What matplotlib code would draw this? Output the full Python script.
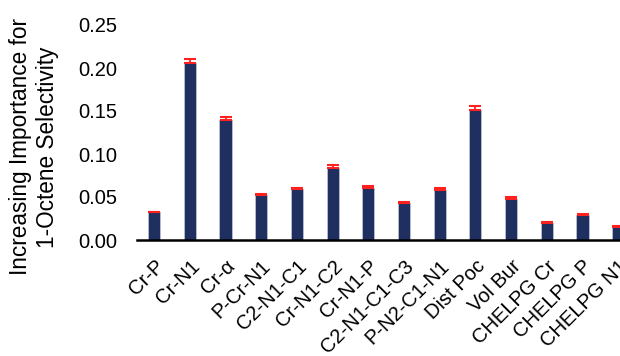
import matplotlib
matplotlib.use("Agg")
import matplotlib.pyplot as plt
import numpy as np

plt.rcParams['font.family'] = ['Liberation Sans', 'DejaVu Sans']

descriptors = ["Cr-P", "Cr-N1", "Cr-\u03b1", "P-Cr-N1", "C2-N1-C1", "Cr-N1-C2",
               "Cr-N1-P", "C2-N1-C1-C3", "P-N2-C1-N1", "Dist Poc", "Vol Bur",
               "CHELPG Cr", "CHELPG P", "CHELPG N1"]
importance = [0.032, 0.206, 0.139, 0.052, 0.059, 0.084, 0.061, 0.043, 0.058,
              0.151, 0.048, 0.020, 0.029, 0.015]
error = [0.001, 0.005, 0.004, 0.001, 0.0015, 0.003, 0.002, 0.0015, 0.002,
         0.005, 0.002, 0.001, 0.0015, 0.0015]

fig = plt.figure(figsize=(6.2, 3.56), dpi=100)
ax = fig.add_axes([137 / 620, 116 / 356, 1 - 137 / 620, 215 / 356])

x = np.arange(len(descriptors))
ax.bar(x, importance, width=0.34, color="#1f2f5f", edgecolor="#b8c0d4", linewidth=0.6)
# only the upper half of the error bar is visible
ax.errorbar(x, importance, yerr=[np.zeros(len(error)), error], fmt="none",
            ecolor="#ff2020", elinewidth=1.3, capsize=4, capthick=1.5)

ax.set_xlim(-0.48, 13.05)
ax.set_ylim(0, 0.25)
ax.set_yticks([0, 0.05, 0.10, 0.15, 0.20, 0.25])
ax.set_yticklabels(["0.00", "0.05", "0.10", "0.15", "0.20", "0.25"], fontsize=14.5)
ax.set_xticks(x)
ax.set_xticklabels(descriptors, rotation=45, ha="right", rotation_mode="anchor", fontsize=14.5)
ax.tick_params(axis="y", length=0, pad=14)
ax.tick_params(axis="x", length=0, pad=12)

for side in ["top", "right", "left"]:
    ax.spines[side].set_visible(False)
ax.spines["bottom"].set_linewidth(1.8)
ax.spines["bottom"].set_color("black")

ax.set_ylabel("Increasing Importance for\n1-Octene Selectivity", fontsize=16.3, linespacing=1.2)
ax.yaxis.set_label_coords(-78 / 483, 0.433)

fig.savefig("out.png", dpi=100)
